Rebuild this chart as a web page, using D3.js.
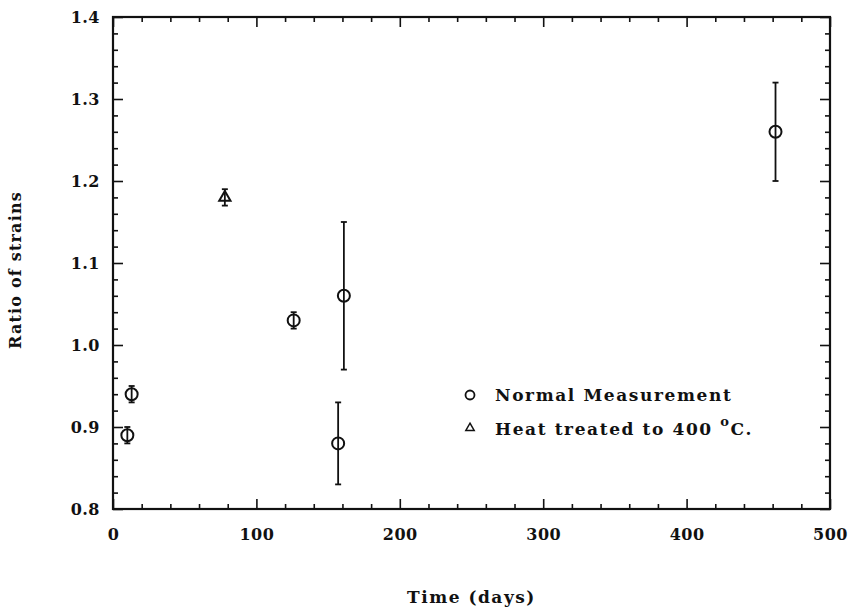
<!DOCTYPE html>
<html>
<head>
<meta charset="utf-8">
<script src="https://cdn.jsdelivr.net/npm/d3@7"></script>
<style>
  body { margin: 0; background: #fff; }
  svg text { font-family: "DejaVu Serif", serif; font-weight: bold; fill: #111; }
</style>
</head>
<body>
<div id="chart"></div>
<script>
// normal measurements: time (days), ratio, error
const normalDays = [10, 13, 126, 157, 161, 462];
const normalRatio = [0.89, 0.94, 1.03, 0.88, 1.06, 1.26];
const normalErr = [0.01, 0.01, 0.01, 0.05, 0.09, 0.06];

// heat treated to 400 C
const heatDays = [78];
const heatRatio = [1.18];
const heatErr = [0.01];

const xTicks = [0, 100, 200, 300, 400, 500];
const yTicks = [0.8, 0.9, 1.0, 1.1, 1.2, 1.3, 1.4];

const width = 851, height = 609;
const margin = { top: 17, right: 21, bottom: 100, left: 113 };

const svg = d3.select('#chart').append('svg')
  .attr('width', width)
  .attr('height', height);

const g = svg.append('g')
  .attr('transform', `translate(${margin.left},${margin.top})`);

const w = width - margin.left - margin.right;
const h = height - margin.top - margin.bottom;

// scales
const x = d3.scaleLinear().domain([0, 500]).range([0, w]);
const y = d3.scaleLinear().domain([0.8, 1.4]).range([h, 0]);

const xMinor = d3.range(0, 501, 20).filter(d => d % 100 !== 0);
const yMinor = d3.range(80, 141, 2).filter(d => d % 10 !== 0).map(d => d / 100);

// axes, ticks pointing inward on all four sides
function drawAxis(axis, transform) {
  const a = g.append('g').attr('transform', transform).call(axis);
  a.select('.domain').remove();
  a.selectAll('line').attr('stroke', '#111').attr('stroke-width', 1.6);
  return a;
}

const bottom = drawAxis(d3.axisBottom(x).tickValues(xTicks).tickSize(-10).tickPadding(20)
  .tickFormat(d3.format('d')), `translate(0,${h})`);
bottom.selectAll('text').attr('font-size', 16).attr('letter-spacing', 0.5).attr('fill', '#111');
drawAxis(d3.axisBottom(x).tickValues(xMinor).tickSize(-5).tickFormat(''), `translate(0,${h})`);
drawAxis(d3.axisTop(x).tickValues(xTicks).tickSize(-10).tickFormat(''), 'translate(0,0)');
drawAxis(d3.axisTop(x).tickValues(xMinor).tickSize(-5).tickFormat(''), 'translate(0,0)');

const left = drawAxis(d3.axisLeft(y).tickValues(yTicks).tickSize(-10).tickPadding(13)
  .tickFormat(d3.format('.1f')), 'translate(0,0)');
left.selectAll('text').attr('font-size', 16).attr('letter-spacing', 0.5).attr('fill', '#111');
drawAxis(d3.axisLeft(y).tickValues(yMinor).tickSize(-5).tickFormat(''), 'translate(0,0)');
drawAxis(d3.axisRight(y).tickValues(yTicks).tickSize(-10).tickFormat(''), `translate(${w},0)`);
drawAxis(d3.axisRight(y).tickValues(yMinor).tickSize(-5).tickFormat(''), `translate(${w},0)`);

// frame
g.append('rect')
  .attr('width', w)
  .attr('height', h)
  .attr('fill', 'none')
  .attr('stroke', '#111')
  .attr('stroke-width', 2.2);

// error bars + markers
const normal = normalDays.map((d, i) => ({ t: d, v: normalRatio[i], e: normalErr[i] }));
const heat = heatDays.map((d, i) => ({ t: d, v: heatRatio[i], e: heatErr[i] }));

function errorBars(data) {
  const eb = g.append('g').attr('stroke', '#111').attr('stroke-width', 1.8);
  data.forEach(d => {
    const cx = x(d.t);
    eb.append('line')
      .attr('x1', cx).attr('x2', cx)
      .attr('y1', y(d.v - d.e)).attr('y2', y(d.v + d.e));
    [d.v - d.e, d.v + d.e].forEach(v => {
      eb.append('line')
        .attr('x1', cx - 3).attr('x2', cx + 3)
        .attr('y1', y(v)).attr('y2', y(v));
    });
  });
}

errorBars(normal);
errorBars(heat);

g.append('g').selectAll('circle')
  .data(normal)
  .join('circle')
  .attr('cx', d => x(d.t))
  .attr('cy', d => y(d.v))
  .attr('r', 6)
  .attr('fill', 'none')
  .attr('stroke', '#111')
  .attr('stroke-width', 2);

const tri = d3.symbol().type(d3.symbolTriangle).size(55);
g.append('g').selectAll('path')
  .data(heat)
  .join('path')
  .attr('transform', d => `translate(${x(d.t)},${y(d.v)})`)
  .attr('d', tri)
  .attr('fill', 'none')
  .attr('stroke', '#111')
  .attr('stroke-width', 2);

// legend
const legend = svg.append('g').attr('transform', 'translate(470,395)');
legend.append('circle')
  .attr('r', 4.5)
  .attr('fill', 'none')
  .attr('stroke', '#111')
  .attr('stroke-width', 1.8);
legend.append('text')
  .attr('x', 25).attr('y', 6)
  .attr('font-size', 17)
  .attr('letter-spacing', 1.6)
  .text('Normal Measurement');
legend.append('path')
  .attr('transform', 'translate(0,33)')
  .attr('d', d3.symbol().type(d3.symbolTriangle).size(30))
  .attr('fill', 'none')
  .attr('stroke', '#111')
  .attr('stroke-width', 1.5);
const heatLabel = legend.append('text')
  .attr('x', 25).attr('y', 40)
  .attr('font-size', 17)
  .attr('letter-spacing', 1.6);
heatLabel.append('tspan').text('Heat treated to 400 ');
heatLabel.append('tspan').attr('dy', -9).attr('font-size', 13).text('o');
heatLabel.append('tspan').attr('dy', 9).text('C.');

// axis titles
svg.append('text')
  .attr('x', margin.left + w / 2)
  .attr('y', 603)
  .attr('text-anchor', 'middle')
  .attr('font-size', 17)
  .attr('letter-spacing', 1.5)
  .text('Time (days)');

svg.append('text')
  .attr('transform', `translate(21,${margin.top + 253}) rotate(-90)`)
  .attr('text-anchor', 'middle')
  .attr('font-size', 16)
  .attr('letter-spacing', 1.2)
  .text('Ratio of strains');
</script>
</body>
</html>
